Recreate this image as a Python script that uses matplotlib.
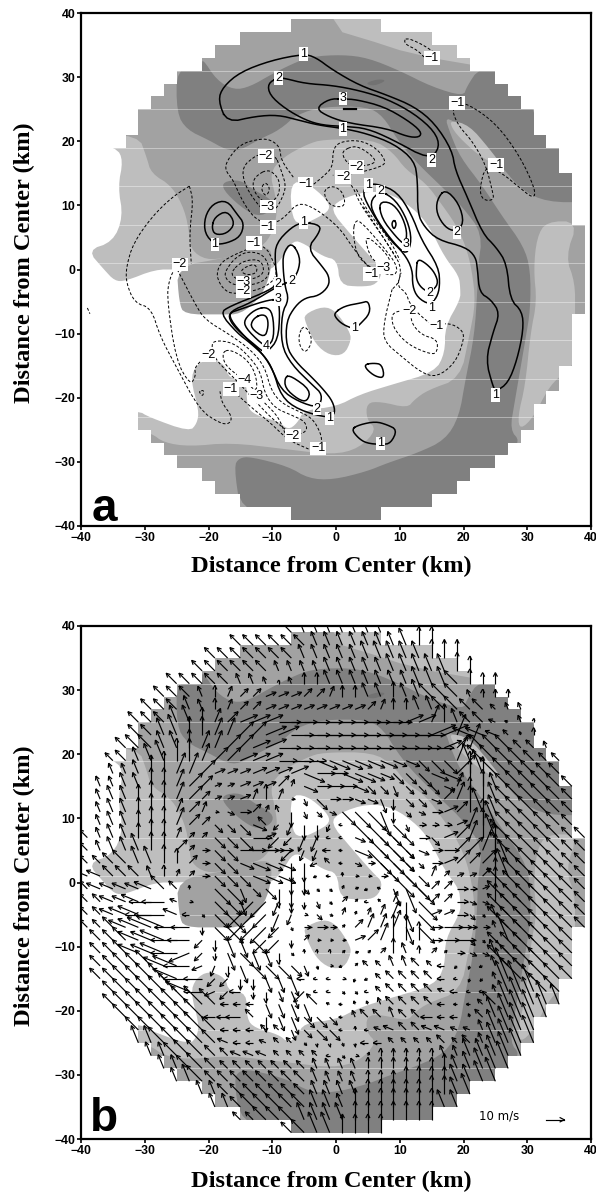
import numpy as np
import matplotlib
matplotlib.use("Agg")
import matplotlib.pyplot as plt
from matplotlib.patches import Polygon
from matplotlib.collections import LineCollection

LIGHT, MID, DARK, DARKER = "#BEBEBE", "#A2A2A2", "#808080", "#727272"

# stair outline of the analysed disc (right half, mirrored for the left)
DOMAIN_RIGHT = [(7,39),(7,37),(15,37),(15,35),(19,35),(19,33),(21,33),(21,31),(25,31),(25,29),(27,29),(27,27),
    (29,27),(29,25),(31,25),(31,21),(33,21),(33,19),(35,19),(35,15),(37,15),(37,7),(39,7),(39,-7),(37,-7),(37,-15),
    (35,-15),(35,-19),(33,-19),(33,-21),(31,-21),(31,-25),(29,-25),(29,-27),(27,-27),(27,-29),(25,-29),(25,-31),
    (21,-31),(21,-33),(19,-33),(19,-35),(15,-35),(15,-37),(7,-37),(7,-39)]

LIGHT_BIG = [(-40,21),(-31,21),(-29.7,17.5),(-29,15),(-25.7,13),(-23.7,9.2),(-23,5.5),(-22.7,3),(-20.4,1.5),(-17.3,1.8),
    (-14,2.9),(-11.5,3.6),(-10,5.7),(-9.2,8.8),(-9.5,11.5),(-10.4,15.1),(-8.3,17.5),(-4.6,19.5),(-2,20.3),(5.8,20.3),(8.9,18.3),
    (11,15.5),(14,13.6),(16.7,10),(18.8,7),(20.3,3.8),(21.3,0),(21.9,-5.2),(20.9,-10.4),(19.5,-17),(14.4,-18.8),
    (12.3,-20.3),(11.2,-21.6),(7,-20.6),(4.8,-20.8),(4.8,-23.4),(6.4,-25),(3.6,-27.9),(-0.5,-28.9),(-8,-28),(-16.6,-27),
    (-23,-27.6),(-27,-27),(-29,-25.5),(-32,-25),(-40,-22)]
LIGHT_TOP = [(-0.7,39.5),(8,39.5),(22,39),(22,31.8),(15.5,32.9),(10,34.2),(6,35.5),(1,37)]
LIGHT_RIGHT = [(33,7.5),(31.5,5),(31,0),(31.5,-5),(30.5,-10),(29.7,-18),(28.5,-23),(28.9,-25),(31,-23),(33.2,-18.7),(35,-16.7),
    (37.5,-15),(37.5,-7),(37.5,-2),(36,2),(38,7.5)]
LIGHT_LENS = [(17.9,23.3),(20.9,22.5),(24,18.9),(26.2,16),(23,17.3),(19.8,20.1),(18.2,22)]
LIGHT_BLOB = [(-5,-7),(-2,-5.7),(0,-6.5),(2.1,-9.6),(2.4,-11),(1.3,-13.3),(-1,-13.4),(-3.2,-11.7),(-4.8,-8.3)]
WHITE_BIG = [(-41,21),(-34.4,19),(-33.4,17),(-34.2,12.9),(-33.4,8.2),(-35,4.3),(-39,3),(-36.4,0),(-34.7,-1.8),(-33,-1.8),(-28.4,0),
    (-25,0),(-17,0.3),(-13,-0.6),(-10,0),(-8.3,2),(-6.7,4.6),(-4.9,4),(-2,2),(0.2,1.5),(0.6,-2.4),(3.8,-2.7),(6.4,-2.4),(7.4,0),(5.8,1.5),(2.2,5.6),
    (-0.9,9.3),(0.6,10.9),(5,12.3),(9,11.7),(13,8.8),
    (15,6),(17,2),(19.3,-1),(19.5,-3),(19.5,-4.7),(17.1,-8.9),(17.1,-13),(15.5,-16),(8.6,-18),(3.7,-19.5),(0,-21.4),(-5,-21.9),(-6.1,-24),
    (-7.5,-25),(-9,-23.7),(-12.7,-22.7),(-14,-21.3),(-14,-17.2),(-16.8,-17),(-17.4,-14.8),(-20,-13.8),(-22,-15),(-22.8,-17.2),(-21.5,-22),
    (-21.8,-24),(-23,-25.3),(-29.4,-23),(-31,-22),(-41,-22)]
WHITE_TONGUE = [(-7.2,13.6),(-4.6,13.6),(-1.4,10.9),(-0.9,9.3),(-3,8),(-5.3,7),(-6.9,7.8)]
MID_BLOB = [(-25,0.5),(-24.6,-5.2),(-23.8,-7),(-18,-7),(-15,-7),(-12,-4.5),(-10.5,-1.5),(-10,2),(-10.5,3.5),(-14,3),(-17.3,1.8)]
DARK_BAND = [(-25,31.5),(-21,31.5),(-21,33),(-18.7,29.5),(-16,28),(-13.5,28.5),(-10,30.5),(-7,32),(-4,33.2),(1,33.5),(5,33),(10,31),
    (15,28.5),(20,27),(20.5,28.5),(22.5,31.5),(28,31.5),(31,25),(31.6,22),(35,19.5),(40,15),(40,10.5),(33,10.5),(29,12.5),(26,16),(23,19.5),(20,22),
    (17,24),(18,21),(19.5,17.5),(23,13),(26,8.4),(29.4,3.7),(30.5,0),(30.5,-6.2),(29.7,-11),(28,-20.8),(27.3,-25),(28.9,-26.8),(27,-28.4),(26,-31),
    (22,-33.5),(19,-35.5),(15,-37.5),(7,-39.5),(-7,-39.5),(-15,-37.5),(-16,-30.7),(-15.2,-29.4),(-13.4,-29.2),(-7.5,-30.7),(-4.3,-32.6),(-0.5,-32.8),
    (4.8,-31.5),(8,-30.2),(12.8,-28.6),(17.1,-26.6),(19.3,-23),(20.3,-17.2),(21.7,-10.4),(22.2,-3),(22.2,0),(23,5.6),(19.8,9.8),(17.1,12.4),(12.3,17),
    (9.6,20.3),(7.4,23.9),(4.9,25.4),(-2,25.4),(-6.1,24.2),(-8.8,21.8),(-12,20.3),(-15.2,18.5),(-17.3,18.7),(-20,20.2),(-23.4,21.8),(-25,24.4)]
DARK_SPOT = [(-17.7,13.7),(-15,14),(-12.9,12.4),(-9.9,10.8),(-10,9.2),(-12.3,8.2),(-15,9.8),(-17.7,12.4)]
DARKER_SPOT = [(4.5,29),(6.5,29.7),(8,29.5),(6,28.6)]

SOLID = [
 [(-17.1,22.9),(-18.5,26.4),(-17.7,28.5),(-15,30.8),(-10.2,32.6),(-5.1,33.6),(-3.2,33.1),(-0.5,31.1),(3.7,28.7),(8,27.2),(12.3,25.4),(15.5,22.8),(18.2,18.6),(18.7,15.5),(20.6,11.3),(23,5.6),(25.1,3.5),(26.8,0.9),(27.3,-4.7),(29.2,-6.5),(29.4,-9.4),(28.4,-14.1),(27,-17.7),(25.1,-19),(24.6,-18.2),(23.5,-14.1),(24.6,-9.9),(25.7,-6.8),(24.3,-4.7),(22.5,-3.6),(22.2,0),(21.9,2),(20.3,3.5),(16,4.6),(13.9,6.6),(12.8,8.7),(12.8,13.9),(12.3,17),(9.1,19.6),(4.8,21.2),(1.1,22),(-2.7,22.5),(-5.9,23.3),(-9.1,24.1),(-12.6,23.9)],
 [(-9.1,29.9),(-10.7,29),(-10.4,27.2),(-8,25.1),(-4.8,23.3),(-2.1,22.5),(1.6,22.3),(4.8,22),(8.6,20.4),(14.7,17.1),(16.3,19.1),(15.5,21.5),(12.3,24.3),(8,26.6),(3.7,27.9),(-0.5,28.7),(-4.8,29),(-8,29.8)],
 [(1.1,26.6),(-1.1,26.6),(-3.2,25.1),(-1.1,23.8),(2.1,22.8),(8,22),(11.2,20.7),(13.1,20.6),(13.4,21.5),(11.2,23.3),(7.5,25.4),(3.2,26.5)],
 [(-19,3.9),(-20.6,5.6),(-20.6,8.2),(-19.3,10.3),(-17.1,10.8),(-15.5,8.6),(-14.4,7.2),(-15,5.1),(-17.1,4.1)],
 [(-19.5,6.6),(-19,8.2),(-17.1,9.2),(-15.8,7.2),(-17.1,5.6),(-19,5.4)],
 [(-5.1,7.4),(-2.4,6.9),(-2.7,5.6),(-4.5,3.3),(-2.1,0.4),(-1.1,-1),(-1.1,-2.6),(-2.7,-4.1),(-4.8,-4.4),(-6.4,-5.7),(-7.8,-8.1),(-7.8,-12),(-6.4,-14.3),(-3.7,-16.9),(-1.9,-18.8),(-0.5,-20.6),(-0.1,-22.4),(-1.1,-23.2),(-5.9,-21.9),(-8.6,-19.8),(-9.9,-15.6),(-11.2,-13.5),(-13.4,-11.5),(-15.5,-9.9),(-18.2,-6.8),(-16.6,-5.7),(-11.2,-3.6),(-9.1,-2.3),(-9.6,1.5),(-9.4,4.1),(-7,6.6)],
 [(-7,4.3),(-5.6,2),(-5.9,-0.3),(-7,-1.8),(-9.1,-2.6),(-13.4,-5.2),(-16.6,-6.5),(-16.6,-7.8),(-14.4,-10.4),(-11.8,-12.8),(-10.2,-15.1),(-8.6,-18.8),(-5.9,-20.6),(-2.7,-21.6),(-2.1,-19.5),(-3.7,-18),(-7,-14.8),(-8.6,-11.7),(-8.5,-6.8),(-7.4,-4.7),(-8,-2.6),(-8.3,0),(-8.3,2.5)],
 [(-8,-16.7),(-7,-16.6),(-4,-18.8),(-4.5,-20.6),(-5.9,-20.3),(-8,-18.5)],
 [(-9.1,-4.6),(-11.2,-4.9),(-15,-6.2),(-16.8,-6.8),(-16.6,-8.1),(-15,-9.9),(-12.8,-11.7),(-11.5,-12.8),(-10.7,-12.8),(-9.1,-10.9),(-8.8,-6.8)],
 [(-11,-5.8),(-12.8,-6.3),(-14.4,-7.8),(-14.2,-9.1),(-11.8,-11.5),(-10.7,-12),(-9.7,-10.7),(-9.9,-6.8)],
 [(-11.8,-7),(-13.1,-7.8),(-13.4,-9.1),(-11.2,-10.7),(-10.6,-8.9),(-10.8,-7.3)],
 [(5.1,13.3),(6.7,13.3),(9.6,12.1),(11.8,8.7),(13.4,4.6),(16.1,0.4),(16.3,-2.6),(15.8,-4.4),(14.7,-5.5),(12.8,-4.4),(12,-2.6),(12,0),(10.7,2.5),(8,5.1),(4.5,10.8),(4.3,12.4)],
 [(7,12.3),(9.4,10.8),(11.2,7.7),(11.9,4.6),(11.1,2.2),(9.1,4.1),(6.4,7.7),(5.2,10.5)],
 [(6.7,10.5),(7.2,7.9),(9.4,5.1),(10.8,3.8),(11.2,5.9),(10.2,8.7),(8.6,10.5)],
 [(9.1,7.8),(9.5,7.1),(9.1,6.2),(8.7,7.1)],
 [(12.8,1.7),(12.6,0),(12.6,-1.6),(13.4,-2.9),(14.7,-3.6),(16.1,-2.3),(15.5,-0.5),(14.2,0.9)],
 [(17.1,12.6),(15.8,10.8),(15.8,8.7),(17.1,6.6),(18.7,5.9),(20.1,7.2),(19.3,10.3)],
 [(-0.3,-6.8),(1.3,-5.7),(4,-5.2),(5.1,-4.9),(5.4,-6.8),(3.7,-8.6),(2.9,-9.3),(1.1,-8.6),(0,-7.6)],
 [(4.5,-14.8),(5.9,-14.6),(7.2,-14.8),(7.6,-16.9),(6.2,-16.7),(4.8,-15.6)],
 [(2.4,-24.9),(3.7,-24.2),(6.2,-23.7),(8,-24.2),(9.6,-25),(8.6,-27.1),(7.2,-27.3),(4.8,-27.1),(3.5,-26.3)],
]
SOLID_SHORT = [[(1.3,25),(3.2,25)]]

DASHED_CLOSED = [
 [(10.9,36.2),(10.7,35.2),(12.8,34.2),(14.1,32.8),(15.5,33),(15.8,33.6),(13.4,35.2)],
 [(19,25.8),(20.6,25.9),(25.1,22.8),(28.9,17.6),(31.3,12.4),(31,11),(28.4,13.1),(26.2,14.9),(23.5,16.3),(22.5,12.6),(23,10.8),(24.8,10.8),(24.5,12.4),(23.5,16.3),(21.4,20),(19.3,22.3),(18.2,24.7)],
 [(-21.4,-19),(-20.7,-18.8),(-20.9,-19.8),(-21.4,-19.2)],
 [(-5.2,-8.8),(-5.9,-10.4),(-5.6,-12.2),(-4.7,-13),(-3.7,-11.2),(-4.3,-9.4)],
 [(-6.7,-25.9),(-4.5,-25.3),(-4.8,-23.7),(-7,-22.7),(-9.6,-21.6),(-11.2,-19.3),(-11.8,-16.1),(-13.4,-13.8),(-16,-11.4),(-19.3,-11),(-19.5,-12.5),(-18.7,-14.3),(-15.5,-17.4),(-12.6,-20.6),(-9.9,-23.4)],
 [(-17.7,-12.8),(-16.6,-12.5),(-14.2,-13.8),(-12.6,-16.1),(-12.3,-19.3),(-14.4,-17.2),(-16.9,-15.4),(-17.7,-14.1)],
 [(8.8,-6.5),(8.8,-8.9),(11.2,-11.7),(15,-13.3),(15.9,-12.8),(15.9,-10.9),(13.4,-10.2),(11.8,-8.3),(11.8,-6.5)],
 [(1.1,18.6),(3.2,19.4),(5.9,17.6),(6.2,16.5),(3.2,16),(1.9,16.5),(1.1,17.6)],
 [(-1.9,12.4),(-0.5,13.1),(1.1,12.1),(1.5,9.8),(-0.5,9.8),(-1.6,10.9)],
 [(-9.6,18),(-8.6,15.5),(-7.8,12.9),(-8.6,10.8),(-9.6,9.2),(-11.2,9),(-12.8,10.8),(-14.4,13.4),(-14.7,16),(-12.8,17.6),(-12,17.9)],
 [(-10.7,15.7),(-12.8,14.4),(-13.1,12.9),(-12.3,11.3),(-10.7,10.2),(-9.1,11.3),(-8.8,12.9),(-9.1,14.4)],
 [(-11.1,13.7),(-11.8,12.6),(-11,11.3),(-10.3,12.6)],
 [(-13.6,3.3),(-16.6,2),(-18.2,0.9),(-18.8,-1),(-17.7,-3.1),(-16,-3.9),(-11.8,-3.1),(-9.6,-1.6),(-9.3,0),(-10.2,2),(-10.7,3),(-11.8,3.8)],
 [(-16.6,0.9),(-17.7,-1),(-16,-2.6),(-12.3,-2.3),(-10.4,-1),(-10.7,1.2),(-11.8,2.5),(-13.9,2.8),(-15.5,2)],
 [(-15.5,0.7),(-16.6,-0.8),(-15,-1.8),(-12.3,-1.3),(-11.2,-0.3),(-11.8,1.5),(-13.9,1.5)],
 [(-15,-0.3),(-13.9,-0.9),(-12.3,-0.5),(-12.6,0.9),(-14.2,0.4)],
 [(2.9,7.4),(2.7,5.6),(3.2,2.5),(4.5,0.9),(7,-0.5),(9.4,-1),(9.6,0.7),(7.2,3.8),(3.7,7.7)],
 [(4.5,5.6),(5.1,2.5),(6.4,0.9),(8.8,0.4),(8,2.5)],
]
DASHED_OPEN = [
 [(-23,13),(-25.7,11.3),(-28.9,8.2),(-31.8,4.1),(-32.9,0.4),(-32.9,-2.1),(-31.6,-5.2),(-29,-6),(-27.6,-10.4),(-25.1,-15.1),(-21.4,-21.9),(-18.2,-24),(-16.7,-24.1),(-16.3,-22.9),(-17.9,-20.8),(-18.2,-19)],
 [(-23,13),(-22.4,10.8),(-23,5.6),(-22.7,0.9)],
 [(-24.9,0.9),(-26.2,-1.6),(-26.5,-4.7),(-25.1,-14.1),(-22.9,-18),(-22,-16.7),(-22.2,-15.1),(-20,-13.4)],
 [(-24.9,0),(-22.2,-5.2),(-20.6,-7.8),(-16.6,-10.2),(-13.4,-12.5),(-11.2,-15.1),(-10.2,-18.8),(-8.6,-20.8),(-5.9,-22.1),(-3.7,-23.2),(-2.4,-25.5),(-2.2,-27.1)],
 [(-15.5,-19.5),(-13.4,-21.4),(-10.2,-24),(-7.5,-26.6),(-4.3,-28)],
 [(-11.2,-20.8),(-9.1,-22.9),(-8,-25.5)],
 [(-39,-6),(-38.6,-6.9)],
 [(-6.7,14.4),(-8.6,17),(-8.8,19.1),(-10.2,20.2),(-11.8,20.4),(-15,19.6),(-17.1,17),(-17.4,15.5),(-16.1,13.9),(-15,11.3),(-13.4,8.7),(-11.8,7.4),(-9.6,7.2),(-8,8.2),(-5.9,10.5),(-3.2,9.5),(0.5,6.6),(2.7,3.3),(5.1,0.4)],
 [(8.8,-3.1),(7.5,-8.3),(7.5,-11.2),(10.2,-13.5),(13.4,-16.1),(15.8,-16.8),(18.7,-14.6),(20.1,-10.9),(19.8,-9.4),(17.7,-8.3),(15.2,-8.8),(12.8,-6.8),(11.5,-5.2),(11,-3.6),(9.6,-2.6),(10.2,-0.5)],
 [(-3.5,13.3),(-2,14.5),(-0.5,16),(-0.5,18.6),(0.5,19.9),(3.7,20.2),(6.4,18.9),(7.9,16.8),(7,16),(3.2,15),(0,14.7),(-0.5,14.7)],
 [(1.3,14.2),(2.7,12.9),(3.7,10.3),(7,5.6),(9.1,2.5),(10.2,0.4),(9.9,-2),(8.8,-3.1)],
 [(4.3,9.8),(8,4.1),(9.6,1.5)],
 [(3.2,12.5),(5,9),(8.5,4.5),(10,1.5)],
]

LABELS_SOLID = [("1",-5.1,33.6),("2",-9,29.9),("3",1.1,26.7),("1",1.1,21.9),("2",15,17.1),("1",5.1,13.2),("2",7,12.2),("3",11,3.9),
    ("2",19,5.8),("1",-5.1,7.4),("1",-19,3.9),("2",-7,-1.8),("2",-9.1,-2.3),("3",-9.1,-4.6),("4",-11,-12),("2",14.7,-3.7),("1",15,-6),
    ("1",2.9,-9.1),("2",-3,-21.7),("1",-1,-23.2),("1",7,-27.1),("1",25,-19.6)]
LABELS_DASHED = [("\u22121",15,33),("\u22121",19,26),("\u22121",25.1,16.3),("\u22122",-11,17.7),("\u22122",3.2,16),("\u22122",1.1,14.4),
    ("\u22121",-4.8,13.3),("\u22123",-10.7,9.8),("\u22121",-10.7,6.6),("\u22121",-12.9,4.1),("\u22122",-24.5,0.8),("\u22121",5.5,-0.7),
    ("\u22123",7.5,0.3),("\u22123",-14.5,-2),("\u22122",-14.5,-3.4),("\u22122",11.5,-6.5),("\u22121",15.8,-8.8),("\u22122",-20,-13.4),
    ("\u22124",-14.3,-17.2),("\u22121",-16.5,-18.6),("\u22123",-12.5,-19.8),("\u22122",-6.8,-25.9),("\u22121",-2.8,-27.9)]

TICKS = [-40,-30,-20,-10,0,10,20,30,40]
TICK_TEXT = ["\u221240","\u221230","\u221220","\u221210","0","10","20","30","40"]
STREAK_Y = [31,25,19,13,7,1,-5,-11,-17,-23,-29]
GRID_X = list(range(-39,40,2))
GRID_Y = list(range(39,-40,-2))

# wind direction per grid point: hex sector counter-clockwise from east (0=E, 4=N, 8=W, c=S); rows y=39..-39, columns x=-39..39
DIR_ROWS = [
".......... ......6555 5555...... ..........",
".......... ..66666655 55555544.. ..........",
".......... 6666666555 5555555444 ..........",
".........6 6666655555 5555555554 4.........",
".......666 6655545445 5555555556 444.......",
"......6665 4322111223 4455455666 5444......",
".....66655 4322111111 1123445566 66655.....",
"....666554 3211100000 0000011345 667754....",
"....665544 3322110000 0000000113 777654....",
"...6665543 3221100000 0000000012 3666665...",
"..66555443 22111000ff ffffffeee3 56666666..",
"..55544332 1111111f00 ffffeeeff2 45666666..",
".555544322 1111123f00 0feedeeef3 445666666.",
".555444322 1113430de0 0ffdceef23 445666666.",
".555444323 0f0235cdef eeedcef012 455666666.",
".555444322 eeef6abccb 8eeeed0001 345666666.",
"6555444322 eee01aabb8 8feeee0e12 3456666666",
"6555544220 ee0000abb8 8feeeef002 2346666666",
"6666554420 eeffffcc96 8f0eeee012 2245666666",
"7766654320 eeefffcc98 4000eee321 1245666666",
"6777776640 eedeecceee 3197dde220 0146666666",
"6677788700 eedaabccde 22863ce220 ff46666666",
"667778878e eeaaabb0ef 33333de110 ee56666666",
"666777788c eeaaaad000 22333de000 0056666666",
".66677788a cddeaac200 0123444000 eee566666.",
".66677789a cdeddce444 2122454220 ff5666666.",
".666667789 bcdeeeedd0 926655668a b95666666.",
".666666788 aaccddd888 0b96666688 ba5566666.",
"..66666678 9a8ccdda88 ee86666678 88555566..",
"..66666666 6888dddd67 8555666688 86655555..",
"...6666666 8886cddeee 8566566888 5655555...",
"....666666 688866deee 8487766777 755555....",
"....556666 6788766ecc dc88666666 655555....",
".....55666 6677766668 e034444455 55555.....",
"......5566 6666666655 5544444445 5555......",
".......556 6666666655 5544444445 555.......",
".........5 5666666655 5544444445 5.........",
".......... 5566666655 5444444455 ..........",
".......... ..66666555 54444444.. ..........",
".......... ......6655 4444...... ..........",
]
# wind speed per grid point in units of 2 m/s
SPD_ROWS = [
".......... ......4444 4444...... ..........",
".......... ..44444444 44444555.. ..........",
".......... 4444444444 4455555555 ..........",
".........4 4444433334 4444555555 4.........",
".......444 4433212334 4444445555 433.......",
"......4443 3333333333 3344445555 2222......",
".....44443 3333333333 3333334455 44222.....",
"....444554 4455567777 7766555554 442121....",
"....445655 5555666777 7777777776 553212....",
"...4555555 5555666777 7777776655 7555332...",
"..34456665 5555556666 6555444557 56655433..",
"..33456665 3334445655 6654445557 67665544..",
".334455554 2233342444 4433333334 784566654.",
".344455553 2233431243 3334333345 685566654.",
".344455443 1233224222 5677322344 775566554.",
".344455543 3344323442 1788522223 577566554.",
"3344455322 4455343441 1389833345 5877665544",
"3344555422 4477544332 1599833345 5877665544",
"3345555432 4445555522 1227932345 4587665544",
"4444433222 4445555511 1112894322 2358776654",
"3444455310 6643455211 1111576333 2268777654",
"3344566210 5545643221 2111357333 2258777654",
"3345678421 5755553121 2123456333 2138887654",
"3345678652 5655641232 1344556354 2228887654",
".445667763 3555552211 1345775345 211888765.",
".445667763 2555431111 1112432212 224888765.",
".445566773 3355554311 1122333221 113888765.",
".445566775 3333445211 1112333321 112988765.",
"..45566775 3332335411 1112333322 11299876..",
"..45566677 6222445541 1112333321 12578876..",
"...5566667 3343445443 1233333322 1367887...",
"....556667 5222223344 1112333332 236788....",
"....556666 5322222111 1122222232 336788....",
".....44566 4333322221 1112222233 55678.....",
"......4456 4333333333 3333333344 5678......",
".......456 4444444443 3333344445 567.......",
".........4 4444444444 4444444555 6.........",
".......... 4445555555 4555555555 ..........",
".......... ..33555555 55555555.. ..........",
".......... ......4566 5555...... ..........",
]
SPEED_UNIT = 2.0
KM_PER_MS = 0.29
REF_SPEED = 10

def chaikin(pts, closed=True, n=2):
    p = np.asarray(pts, float)
    for _ in range(n):
        q = np.roll(p, -1, axis=0) if closed else p[1:]
        a = p if closed else p[:-1]
        new = np.empty((2*len(a), 2))
        new[0::2] = 0.75*a + 0.25*q
        new[1::2] = 0.25*a + 0.75*q
        if not closed:
            new = np.vstack([p[0], new, p[-1]])
        p = new
    return p

def setup(ax):
    ax.set_xlim(-40, 40); ax.set_ylim(-40, 40)
    ax.set_xticks(TICKS); ax.set_xticklabels(TICK_TEXT)
    ax.set_yticks(TICKS); ax.set_yticklabels(TICK_TEXT)
    ax.tick_params(length=3, width=1.2, labelsize=8.8, pad=1)
    for lab in ax.get_xticklabels()+ax.get_yticklabels():
        lab.set_family("Liberation Sans")
        lab.set_fontweight("bold")
    for s in ax.spines.values():
        s.set_linewidth(1.6)

def shade(ax):
    left = [(-x, y) for x, y in DOMAIN_RIGHT][::-1]
    mask = Polygon(DOMAIN_RIGHT + left, closed=True, transform=ax.transData, fc="none", ec="none")
    ax.add_patch(mask)
    def fill(poly, col, smooth=True, z=1):
        pts = chaikin(poly) if smooth else np.asarray(poly)
        pa = Polygon(pts, closed=True, fc=col, ec="none", zorder=z)
        ax.add_patch(pa)
        pa.set_clip_path(mask)
    fill(DOMAIN_RIGHT + left, MID, False)
    fill(LIGHT_BIG, LIGHT)
    fill(LIGHT_TOP, LIGHT, False)
    fill(LIGHT_RIGHT, LIGHT)
    fill(WHITE_BIG, "white")
    fill(WHITE_TONGUE, "white")
    fill(LIGHT_BLOB, LIGHT)
    fill(MID_BLOB, MID)
    fill(DARK_BAND, DARK)
    fill(LIGHT_LENS, LIGHT)
    fill(DARK_SPOT, DARK)
    fill(DARKER_SPOT, DARKER)
    for y in STREAK_Y:
        ln, = ax.plot([-40, 40], [y, y], color="white", lw=0.7, alpha=0.4, zorder=1.5)
        ln.set_clip_path(mask)

fig = plt.figure(figsize=(5.96, 11.92), dpi=100)
W, H = 596.0, 1192.0
L, R = 81, 591
axa = fig.add_axes([L/W, 1-526/H, (R-L)/W, 513/H])
axb = fig.add_axes([L/W, 1-1139/H, (R-L)/W, 513/H])
for ax in (axa, axb):
    setup(ax)
    shade(ax)

# panel a: contours
for c in SOLID:
    p = chaikin(c); p = np.vstack([p, p[0]])
    axa.plot(p[:,0], p[:,1], color="k", lw=1.1, zorder=3)
for c in SOLID_SHORT:
    p = np.array(c); axa.plot(p[:,0], p[:,1], color="k", lw=1.6, zorder=3)
for c in DASHED_CLOSED:
    p = chaikin(c); p = np.vstack([p, p[0]])
    axa.plot(p[:,0], p[:,1], color="k", lw=0.7, ls=(0,(3,2)), zorder=3)
for c in DASHED_OPEN:
    p = chaikin(c, closed=False)
    axa.plot(p[:,0], p[:,1], color="k", lw=0.7, ls=(0,(3,2)), zorder=3)
for txt, x, y in LABELS_SOLID + LABELS_DASHED:
    axa.text(x, y, txt, ha="center", va="center", fontsize=9, family="Liberation Sans", zorder=4,
             bbox=dict(fc="white", ec="none", pad=0.5))

# panel b: wind vectors
segs = []
for y, dr, sr in zip(GRID_Y, DIR_ROWS, SPD_ROWS):
    dchars = "".join(g.ljust(10, ".")[:10] for g in dr.split())
    schars = "".join(g.ljust(10, ".")[:10] for g in sr.split())
    for x, d, s in zip(GRID_X, dchars, schars):
        if d == "." or s == ".":
            continue
        ang = np.deg2rad(int(d, 16)*22.5)
        L_km = int(s)*SPEED_UNIT*KM_PER_MS
        tip = np.array([x + L_km*np.cos(ang), y + L_km*np.sin(ang)])
        tail = np.array([x, y], float)
        hl = min(0.72, 0.8*L_km)
        for sgn in (1, -1):
            a2 = ang + np.pi + sgn*np.deg2rad(27)
            segs.append([tip, tip + hl*np.array([np.cos(a2), np.sin(a2)])])
        segs.append([tail, tip])
axb.add_collection(LineCollection(segs, colors="k", linewidths=0.85, zorder=3))

# reference vector
rx0, ry0 = 32.9, -37.0
rx1 = rx0 + REF_SPEED*KM_PER_MS
axb.plot([rx0, rx1], [ry0, ry0], color="k", lw=0.85, zorder=3)
for sgn in (1, -1):
    a2 = np.pi + sgn*np.deg2rad(27)
    axb.plot([rx1, rx1+0.72*np.cos(a2)], [ry0, ry0+0.72*np.sin(a2)], color="k", lw=0.85, zorder=3)
axb.text(25.6, -36.4, "10 m/s", ha="center", va="center", fontsize=8.5, family="DejaVu Sans")

# panel letters and titles
axa.text(-36.4, -39.2, "a", fontsize=33, fontweight="bold", family="Liberation Sans", ha="center", va="baseline", zorder=5)
axb.text(-36.4, -38.8, "b", fontsize=33, fontweight="bold", family="Liberation Sans", ha="center", va="baseline", zorder=5)
for ypx in (566, 1181):
    fig.text(331/W, 1-ypx/H, "Distance from Center (km)", fontsize=17.6, fontweight="bold",
             family="Liberation Serif", ha="center", va="center")
for ypx in (263, 886):
    fig.text(24/W, 1-ypx/H, "Distance from Center (km)", fontsize=17.6, fontweight="bold",
             family="Liberation Serif", ha="center", va="center", rotation=90)

fig.savefig("out.png", dpi=100)
